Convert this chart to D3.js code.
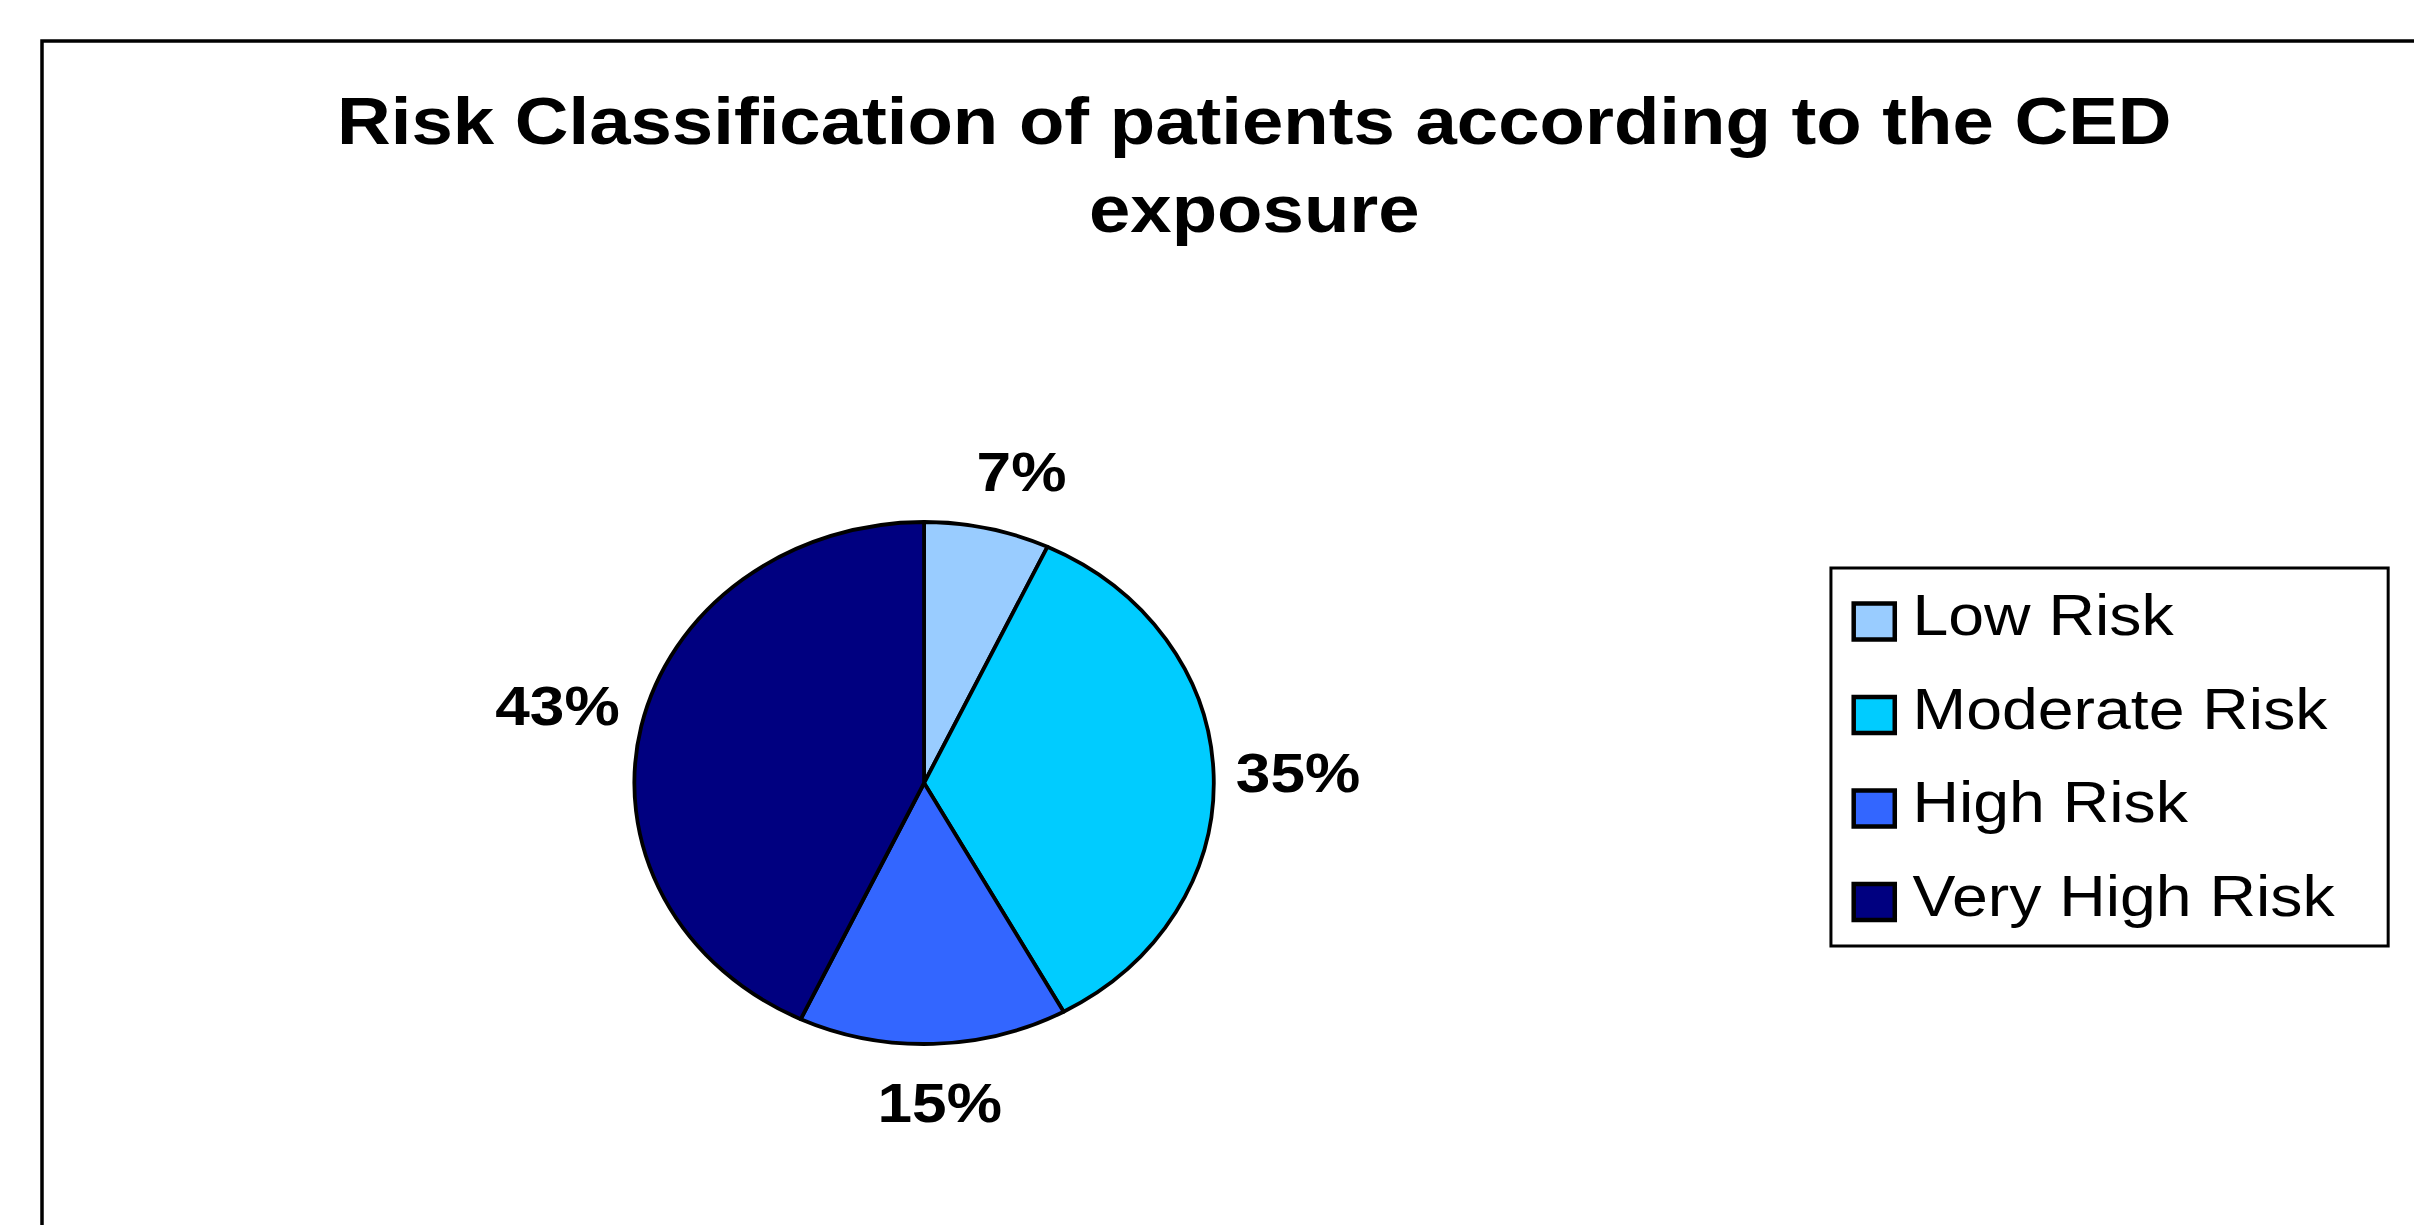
<!DOCTYPE html>
<html><head><meta charset="utf-8">
<script src="https://cdn.jsdelivr.net/npm/d3@7"></script>
<style>html,body{margin:0;padding:0;background:#fff;overflow:hidden}</style>
</head><body><svg id="chart" width="2414" height="1225"></svg>
<script>
const categories = ["Low Risk", "Moderate Risk", "High Risk", "Very High Risk"];
const values = [7, 35, 15, 43];
const colors = ["#99CCFF", "#00CCFF", "#3366FF", "#000080"];
const titleLines = ["Risk Classification of patients according to the CED", "exposure"];

const W = 2414, H = 1225, SX = 1.11;
const font = "'Liberation Sans', Arial, Helvetica, sans-serif";
const svg = d3.select("#chart");
svg.append("rect").attr("width", W).attr("height", H).attr("fill", "#fff");
// outer chart-area border (runs off right and bottom edges like the reference)
svg.append("rect").attr("x", 42).attr("y", 41).attr("width", W).attr("height", H)
  .attr("fill", "none").attr("stroke", "#000").attr("stroke-width", 3.5);

const g = svg.append("g").attr("transform", `scale(${SX},1)`);

g.selectAll("text.title").data(titleLines).join("text").attr("class", "title")
  .attr("x", 1130).attr("y", (d, i) => 144 + i * 88).attr("text-anchor", "middle")
  .attr("font-family", font).attr("font-weight", "bold").attr("font-size", 67)
  .attr("fill", "#000").text(d => d);

const cx = 832.5, cy = 783, r = 261;
const data = categories.map((c, i) => ({category: c, value: values[i]}));
const pie = d3.pie().sort(null).value(d => d.value);
const arcs = pie(data);
const arc = d3.arc().innerRadius(0).outerRadius(r);
const color = d3.scaleOrdinal().domain(categories).range(colors);

const pg = g.append("g").attr("transform", `translate(${cx},${cy})`);
pg.selectAll("path").data(arcs).join("path")
  .attr("d", arc).attr("fill", d => color(d.data.category))
  .attr("stroke", "#000").attr("stroke-width", 3.8).attr("stroke-linejoin", "round")
  .attr("vector-effect", "non-scaling-stroke");

const fs = 56, gapX = 20, gapY = 38, hh = fs * 0.716 / 2;
const f = t => Math.sign(t) * Math.min(1, Math.abs(t) * 3);
pg.selectAll("text.lbl").data(arcs).join("text").attr("class", "lbl")
  .attr("font-family", font).attr("font-weight", "bold").attr("font-size", fs)
  .attr("text-anchor", "middle").attr("fill", "#000")
  .text(d => d.data.value + "%")
  .each(function (d) {
    const a = (d.startAngle + d.endAngle) / 2;
    const hw = this.getComputedTextLength() / 2;
    const s = Math.sin(a), c = -Math.cos(a);
    const x = (r + gapX) * s + hw * f(s);
    const y = (r + gapY) * c + hh * f(c);
    d3.select(this).attr("x", x).attr("y", y + hh);
  });

const lg = g.append("g");
lg.append("rect").attr("x", 1649.5).attr("y", 568).attr("width", 502).attr("height", 378)
  .attr("fill", "#fff").attr("stroke", "#000").attr("stroke-width", 3)
  .attr("vector-effect", "non-scaling-stroke");
const ly = d3.scalePoint().domain(categories).range([621.5, 902]);
lg.selectAll("rect.sw").data(categories).join("rect").attr("class", "sw")
  .attr("x", 1670).attr("y", d => ly(d) - 18).attr("width", 37).attr("height", 36)
  .attr("fill", d => color(d)).attr("stroke", "#000").attr("stroke-width", 4.5)
  .attr("vector-effect", "non-scaling-stroke");
lg.selectAll("text.lt").data(categories).join("text").attr("class", "lt")
  .attr("x", 1723).attr("y", d => ly(d) + 14)
  .attr("font-family", font).attr("font-size", 58).attr("fill", "#000").text(d => d);
</script></body></html>
